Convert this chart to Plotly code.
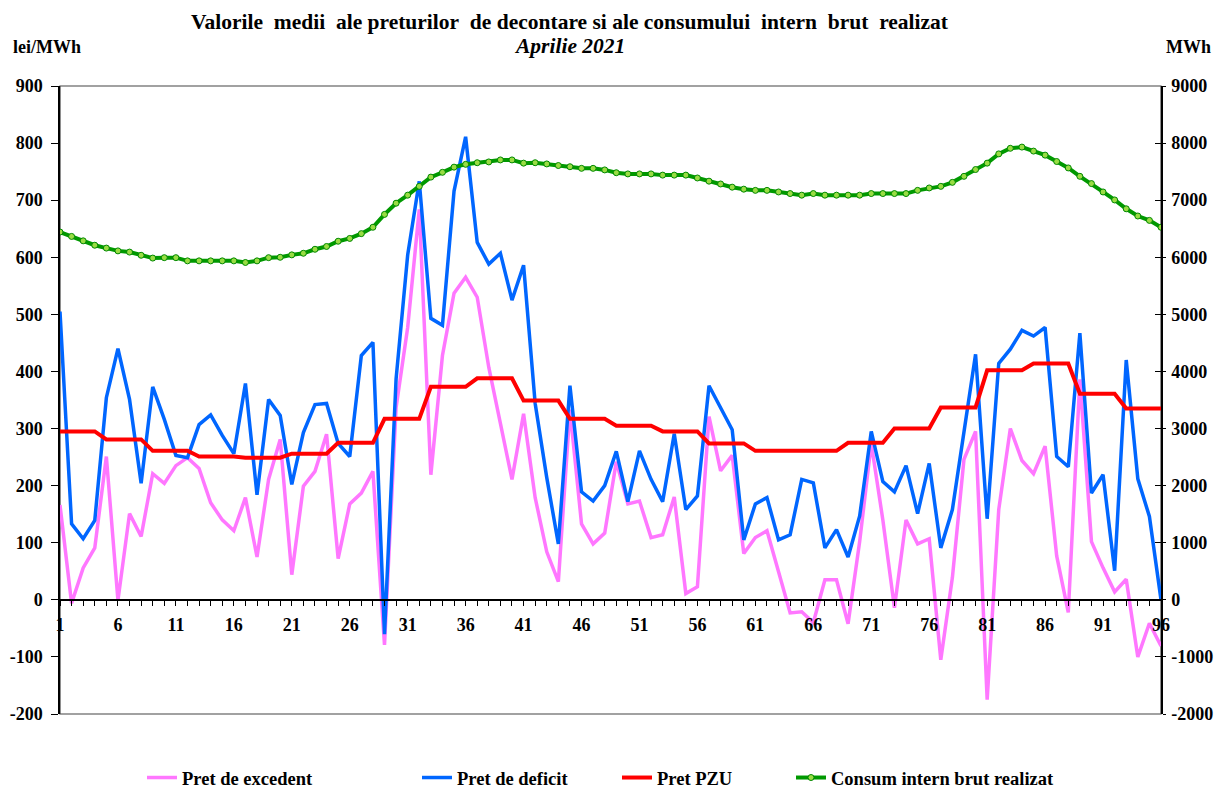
import plotly.graph_objects as go

# quarter-hour intervals
intervals = list(range(1, 97))

# lei/MWh
pret_excedent = [166, -6, 56, 91, 251, -1, 151, 111, 221, 204, 235, 249, 230, 170, 140, 121,
                 179, 75, 211, 281, 44, 199, 225, 290, 72, 168, 187, 225, -79, 337, 477, 684,
                 219, 428, 537, 565, 530, 407, 309, 211, 326, 179, 84, 32, 333, 133, 98, 117,
                 242, 168, 173, 109, 114, 180, 11, 23, 321, 226, 253, 81, 109, 121, 49, -23,
                 -21, -40, 35, 35, -42, 102, 274, 140, -14, 140, 98, 107, -105, 39, 246, 295,
                 -175, 158, 300, 244, 221, 269, 77, -22, 386, 102, 56, 14, 36, -100, -41, -81]

pret_deficit = [505, 133, 107, 139, 354, 440, 351, 204, 373, 316, 253, 249, 307, 324, 288, 256,
                379, 184, 351, 323, 202, 293, 342, 344, 274, 251, 428, 451, -60, 387, 604, 733,
                493, 481, 716, 811, 626, 588, 607, 525, 586, 344, 214, 98, 375, 189, 173, 200,
                260, 172, 261, 211, 172, 291, 158, 182, 375, 337, 298, 105, 168, 179, 105, 114,
                211, 205, 91, 123, 75, 147, 295, 207, 189, 235, 151, 239, 91, 158, 296, 430,
                142, 414, 439, 472, 462, 477, 251, 233, 467, 187, 219, 51, 420, 212, 146, 0]

pret_pzu = [295, 295, 295, 295, 281, 281, 281, 281, 261, 261, 261, 261, 251, 251, 251, 251,
            249, 249, 249, 249, 256, 256, 256, 256, 275, 275, 275, 275, 317, 317, 317, 317,
            373, 373, 373, 373, 388, 388, 388, 388, 349, 349, 349, 349, 317, 317, 317, 317,
            305, 305, 305, 305, 295, 295, 295, 295, 274, 274, 274, 274, 261, 261, 261, 261,
            261, 261, 261, 261, 275, 275, 275, 275, 300, 300, 300, 300, 337, 337, 337, 337,
            402, 402, 402, 402, 414, 414, 414, 414, 361, 361, 361, 361, 335, 335, 335, 335]

# MWh
consum = [6442, 6365, 6288, 6211, 6161, 6112, 6091, 6035, 5986, 5993, 5993, 5937, 5937, 5937, 5937, 5937,
          5909, 5937, 5993, 6000, 6042, 6070, 6140, 6189, 6281, 6330, 6414, 6526, 6751, 6947, 7088, 7242,
          7404, 7488, 7579, 7628, 7656, 7670, 7705, 7705, 7649, 7656, 7635, 7607, 7586, 7558, 7558, 7530,
          7481, 7460, 7460, 7460, 7439, 7439, 7439, 7389, 7333, 7284, 7228, 7193, 7172, 7172, 7144, 7116,
          7088, 7116, 7088, 7088, 7088, 7088, 7116, 7116, 7116, 7116, 7172, 7214, 7242, 7312, 7418, 7537,
          7649, 7811, 7909, 7930, 7860, 7789, 7677, 7565, 7418, 7291, 7144, 7004, 6849, 6723, 6646, 6526]

# axis tick labels (plain hyphen for negatives, like the original)
left_ticks = [-200, -100, 0, 100, 200, 300, 400, 500, 600, 700, 800, 900]
left_labels = ["-200", "-100", "0", "100", "200", "300", "400", "500", "600", "700", "800", "900"]
right_ticks = [-2000, -1000, 0, 1000, 2000, 3000, 4000, 5000, 6000, 7000, 8000, 9000]
right_labels = ["-2000", "-1000", "0", "1000", "2000", "3000", "4000", "5000", "6000", "7000", "8000", "9000"]

FONT = "Liberation Serif, Times New Roman, serif"

# the page body adds an 8px margin, so the figure is a bit smaller than the window
W, H = 1214, 781

fig = go.Figure()

fig.add_trace(go.Scatter(x=intervals, y=pret_excedent, name="Pret de excedent", mode="lines",
                         line=dict(color="#FF77FF", width=3.5), legend="legend"))
fig.add_trace(go.Scatter(x=intervals, y=pret_deficit, name="Pret de deficit", mode="lines",
                         line=dict(color="#0066FF", width=3.5), legend="legend2"))
fig.add_trace(go.Scatter(x=intervals, y=pret_pzu, name="Pret PZU", mode="lines",
                         line=dict(color="#FF0000", width=4), legend="legend3"))
fig.add_trace(go.Scatter(x=intervals, y=consum, name="Consum intern brut realizat", mode="lines+markers",
                         line=dict(color="#009900", width=4),
                         marker=dict(size=6, color="#99DD44", line=dict(color="#008800", width=1)),
                         yaxis="y2", legend="legend4"))

tick_font = dict(family=FONT, size=18, color="black", weight="bold")
leg_font = dict(family=FONT, size=18.5, color="black", weight="bold")

def legend_at(px):
    return dict(xref="container", yref="container", x=px / W, y=1 - 770 / H,
                xanchor="left", yanchor="middle", orientation="h", font=leg_font,
                bgcolor="rgba(0,0,0,0)", itemwidth=30)

fig.update_layout(
    width=W, height=H,
    showlegend=True,
    margin=dict(l=52, r=61, t=78, b=75, autoexpand=False),
    plot_bgcolor="white", paper_bgcolor="white",
    xaxis=dict(range=[1, 96], tick0=1, dtick=5, showgrid=False, zeroline=False,
               showline=True, linecolor="black", linewidth=1.5,
               ticks="outside", ticklen=5, tickcolor="black", tickfont=tick_font,
               ticklabelstandoff=4,
               minor=dict(dtick=1, ticks="outside", ticklen=5, tickcolor="black"),
               anchor="free", position=200 / 1100, automargin=False),
    yaxis=dict(range=[-200, 900], tickvals=left_ticks, ticktext=left_labels,
               showgrid=False, zeroline=False,
               showline=True, linecolor="black", linewidth=1.5, automargin=False,
               ticks="outside", ticklen=7, tickcolor="black", tickfont=tick_font,
               ticklabelstandoff=5),
    yaxis2=dict(range=[-2000, 9000], tickvals=right_ticks, ticktext=right_labels,
                overlaying="y", side="right",
                showgrid=False, zeroline=False, showline=True, linecolor="black", linewidth=1.5,
                automargin=False, ticks="outside", ticklen=3, tickcolor="black",
                tickfont=tick_font, ticklabelstandoff=2),
    yaxis3=dict(range=[-2000, 9000], tickvals=right_ticks, overlaying="y", side="right",
                showgrid=False, zeroline=False, showline=False, showticklabels=False,
                automargin=False, ticks="inside", ticklen=6, tickcolor="black"),
    legend=legend_at(134),
    legend2=legend_at(409),
    legend3=legend_at(609),
    legend4=legend_at(783),
)

# invisible trace so the crossing ticks on the right axis are drawn
fig.add_trace(go.Scatter(x=[None], y=[None], yaxis="y3", showlegend=False, hoverinfo="skip"))

fig.add_shape(type="rect", xref="paper", yref="paper", x0=0, x1=1, y0=0, y1=1,
              line=dict(color="#444444", width=1.2), layer="below")

fig.add_annotation(text="Valorile\u00a0 medii\u00a0 ale preturilor\u00a0 de decontare si ale consumului\u00a0 intern\u00a0 brut\u00a0 realizat",
                   xref="paper", yref="paper", x=(570 - 60) / 1101, y=1 + (86 - 22) / 628,
                   showarrow=False, font=dict(family=FONT, size=21.5, color="black", weight="bold"),
                   xanchor="center", yanchor="middle")
fig.add_annotation(text="<i>Aprilie 2021</i>",
                   xref="paper", yref="paper", x=(569 - 60) / 1101, y=1 + (86 - 46) / 628,
                   showarrow=False, font=dict(family=FONT, size=21.5, color="black", weight="bold"),
                   xanchor="center", yanchor="middle")
fig.add_annotation(text="lei/MWh", xref="paper", yref="paper", x=(47 - 60) / 1101, y=1 + (86 - 47) / 628,
                   showarrow=False, font=tick_font, xanchor="center", yanchor="middle")
fig.add_annotation(text="MWh", xref="paper", yref="paper", x=(1188 - 60) / 1101, y=1 + (86 - 47) / 628,
                   showarrow=False, font=tick_font, xanchor="center", yanchor="middle")

fig.write_html("out.html")
